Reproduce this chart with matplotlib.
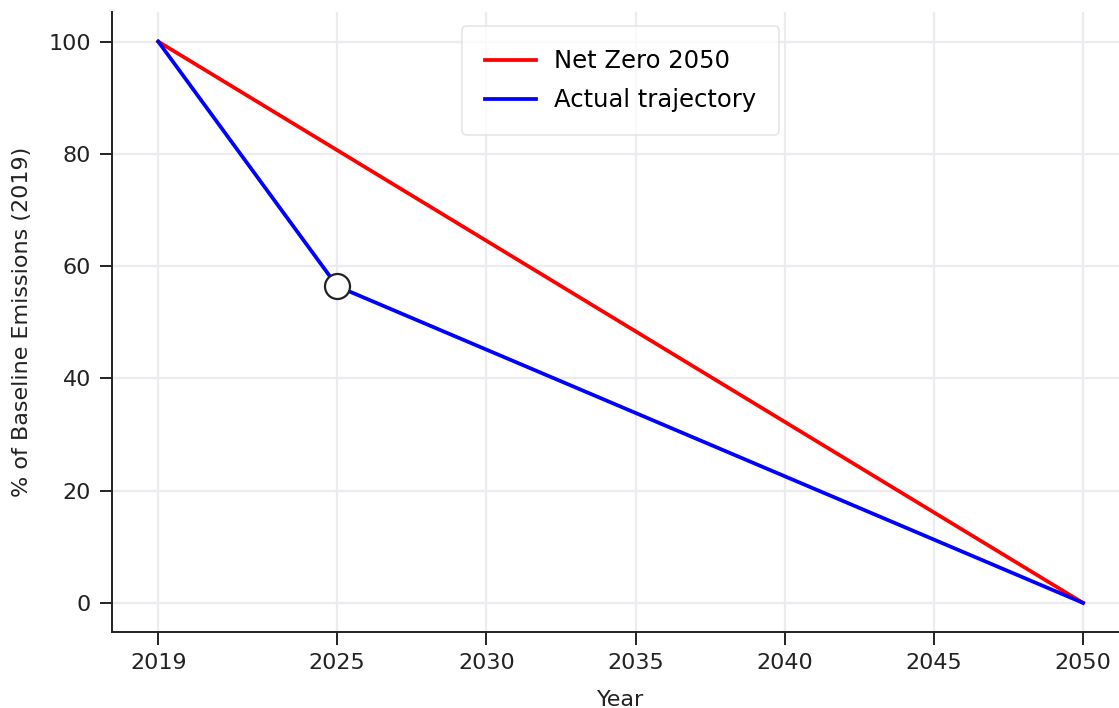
import matplotlib
matplotlib.use("Agg")
import matplotlib.pyplot as plt

# data
years_target = [2019, 2050]
pct_target = [100, 0]

years_actual = [2019, 2025, 2050]
pct_actual = [100, 56.4, 0]

current_year = [2025]
current_pct = [56.4]

xticks = [2019, 2025, 2030, 2035, 2040, 2045, 2050]
yticks = [0, 20, 40, 60, 80, 100]

fs = 16

fig = plt.figure(figsize=(11.19, 7.08), dpi=100)
ax = fig.add_axes([0.1001, 0.1073, 0.909, 0.876])

ax.plot(years_target, pct_target, color="red", lw=2.7, label="Net Zero 2050", zorder=3)
ax.plot(years_actual, pct_actual, color="blue", lw=2.7, label="Actual trajectory", zorder=3)
ax.plot(current_year, current_pct, "o", ms=18, mfc="white", mec="#222222", mew=1.6, zorder=4)

ax.set_xticks(xticks)
ax.set_yticks(yticks)
ax.set_xlim(2017.45, 2051.55)
ax.set_ylim(-5.2, 105.3)
ax.grid(True, color="#ebebf0", lw=1.6)
ax.set_axisbelow(True)

for s in ["top", "right"]:
    ax.spines[s].set_visible(False)
for s in ["left", "bottom"]:
    ax.spines[s].set_linewidth(1.4)
    ax.spines[s].set_color("#222222")

ax.tick_params(axis="both", labelsize=fs, length=9, width=1.4, colors="#222222", pad=6)
ax.set_xlabel("Year", fontsize=fs, color="#222222", labelpad=12)
ax.set_ylabel("% of Baseline Emissions (2019)", fontsize=fs, color="#222222", labelpad=12)

leg = ax.legend(loc="upper center", fontsize=17.5, frameon=True, borderpad=0.95,
                handlelength=2.1, handletextpad=0.75, labelspacing=0.6, borderaxespad=0.6)
leg.get_frame().set_edgecolor("#e0e0e0")
leg.get_frame().set_linewidth(1.2)

plt.savefig("out.png", dpi=100)
